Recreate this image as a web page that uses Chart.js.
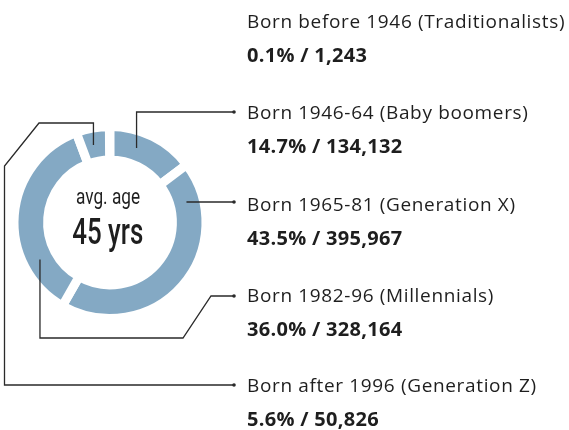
<!DOCTYPE html>
<html>
<head>
<meta charset="utf-8">
<script src="https://cdn.jsdelivr.net/npm/chart.js@4"></script>
<style>
  html, body { margin: 0; padding: 0; background: #fff; }
  #wrap { position: relative; width: 569px; height: 430px; overflow: hidden; font-family: Roboto, sans-serif; color: #1e1e1e; }
  #age-chart { position: absolute; left: 0; top: 0; }
  .lbl { position: absolute; left: 247px; font-family: "Open Sans", sans-serif; font-size: 19px; line-height: 34px; letter-spacing: 0.65px; white-space: nowrap; }
  .lbl b { display: block; font-size: 20px; font-weight: 700; letter-spacing: 0.3px; }
  .mid { position: absolute; left: 18px; width: 180px; text-align: center; white-space: nowrap; }
  .mid span { display: inline-block; }
  #avg { top: 184px; font-size: 21.5px; line-height: 26px; font-weight: 400; }
  #avg span { transform: scaleX(0.8); }
  #yrs { top: 212px; font-size: 37px; line-height: 40px; font-weight: 500; }
  #yrs span { transform: scaleX(0.7); }
</style>
</head>
<body>
<div id="wrap">
  <canvas id="age-chart" width="569" height="430"></canvas>
  <div class="mid" id="avg"><span>avg. age</span></div>
  <div class="mid" id="yrs"><span>45 yrs</span></div>
</div>
<script>
const generations = ['Born before 1946 (Traditionalists)', 'Born 1946-64 (Baby boomers)', 'Born 1965-81 (Generation X)', 'Born 1982-96 (Millennials)', 'Born after 1996 (Generation Z)'];
const shares = [0.1, 14.7, 43.5, 36.0, 5.6];
const counts = [1243, 134132, 395967, 328164, 50826];

const ringColor = '#84a9c4';
const lineColor = '#2a2a2a';
const dotX = 234;

// label blocks, top of each block
const labelTops = [4, 95, 187, 278, 368];

const wrap = document.getElementById('wrap');
generations.forEach((g, i) => {
    const div = document.createElement('div');
    div.className = 'lbl';
    div.style.top = labelTops[i] + 'px';
    div.innerHTML = g + '<b>' + shares[i].toFixed(1) + '% / ' + counts[i].toLocaleString('en-US') + '</b>';
    wrap.appendChild(div);
});

// where each leader starts on its arc (fraction of the arc) and how it runs
const leaders = [
    null,
    { t: 0.37, route: (a) => [a, [a[0], 112], [dotX, 112]] },
    { t: 0.14, route: (a) => [[a[0], 202], [dotX, 202]] },
    { t: 0.25, route: (a) => [a, [a[0], 338], [183, 338], [211, 296], [dotX, 296]] },
    { t: 0.42, route: (a) => [a, [a[0], 123], [39, 123], [4.5, 166], [4.5, 385], [dotX, 385]] }
];

const leaderPlugin = {
    id: 'leaders',
    afterDatasetsDraw(chart) {
        const ctx = chart.ctx;
        const arcs = chart.getDatasetMeta(0).data;
        ctx.save();
        ctx.strokeStyle = lineColor;
        ctx.fillStyle = lineColor;
        ctx.lineWidth = 1.3;
        arcs.forEach((arc, i) => {
            const l = leaders[i];
            if (!l) return;
            const p = arc.getProps(['x', 'y', 'startAngle', 'endAngle', 'innerRadius', 'outerRadius'], true);
            const ang = p.startAngle + l.t * (p.endAngle - p.startAngle);
            const r = (p.innerRadius + p.outerRadius) / 2;
            const a = [p.x + Math.cos(ang) * r, p.y + Math.sin(ang) * r];
            const pts = l.route(a);
            ctx.beginPath();
            pts.forEach((pt, k) => k ? ctx.lineTo(pt[0], pt[1]) : ctx.moveTo(pt[0], pt[1]));
            ctx.stroke();
            const end = pts[pts.length - 1];
            ctx.beginPath();
            ctx.arc(end[0], end[1], 1.8, 0, Math.PI * 2);
            ctx.fill();
        });
        ctx.restore();
    }
};

const total = shares.reduce((s, v) => s + v, 0);

let ageChart = new Chart(document.getElementById('age-chart'), {
    type: 'doughnut',
    data: {
        labels: generations,
        datasets: [{
            data: shares,
            backgroundColor: ringColor,
            borderColor: '#ffffff',
            borderWidth: 9,
            borderJoinStyle: 'miter'
        }]
    },
    options: {
        responsive: false,
        animation: false,
        rotation: -shares[0] / total * 360,
        cutout: '65%',
        layout: {
            padding: { left: 9.5, top: 122, right: 358.5, bottom: 107 }
        },
        plugins: {
            legend: { display: false },
            tooltip: { enabled: false }
        }
    },
    plugins: [leaderPlugin]
});
</script>
</body>
</html>
